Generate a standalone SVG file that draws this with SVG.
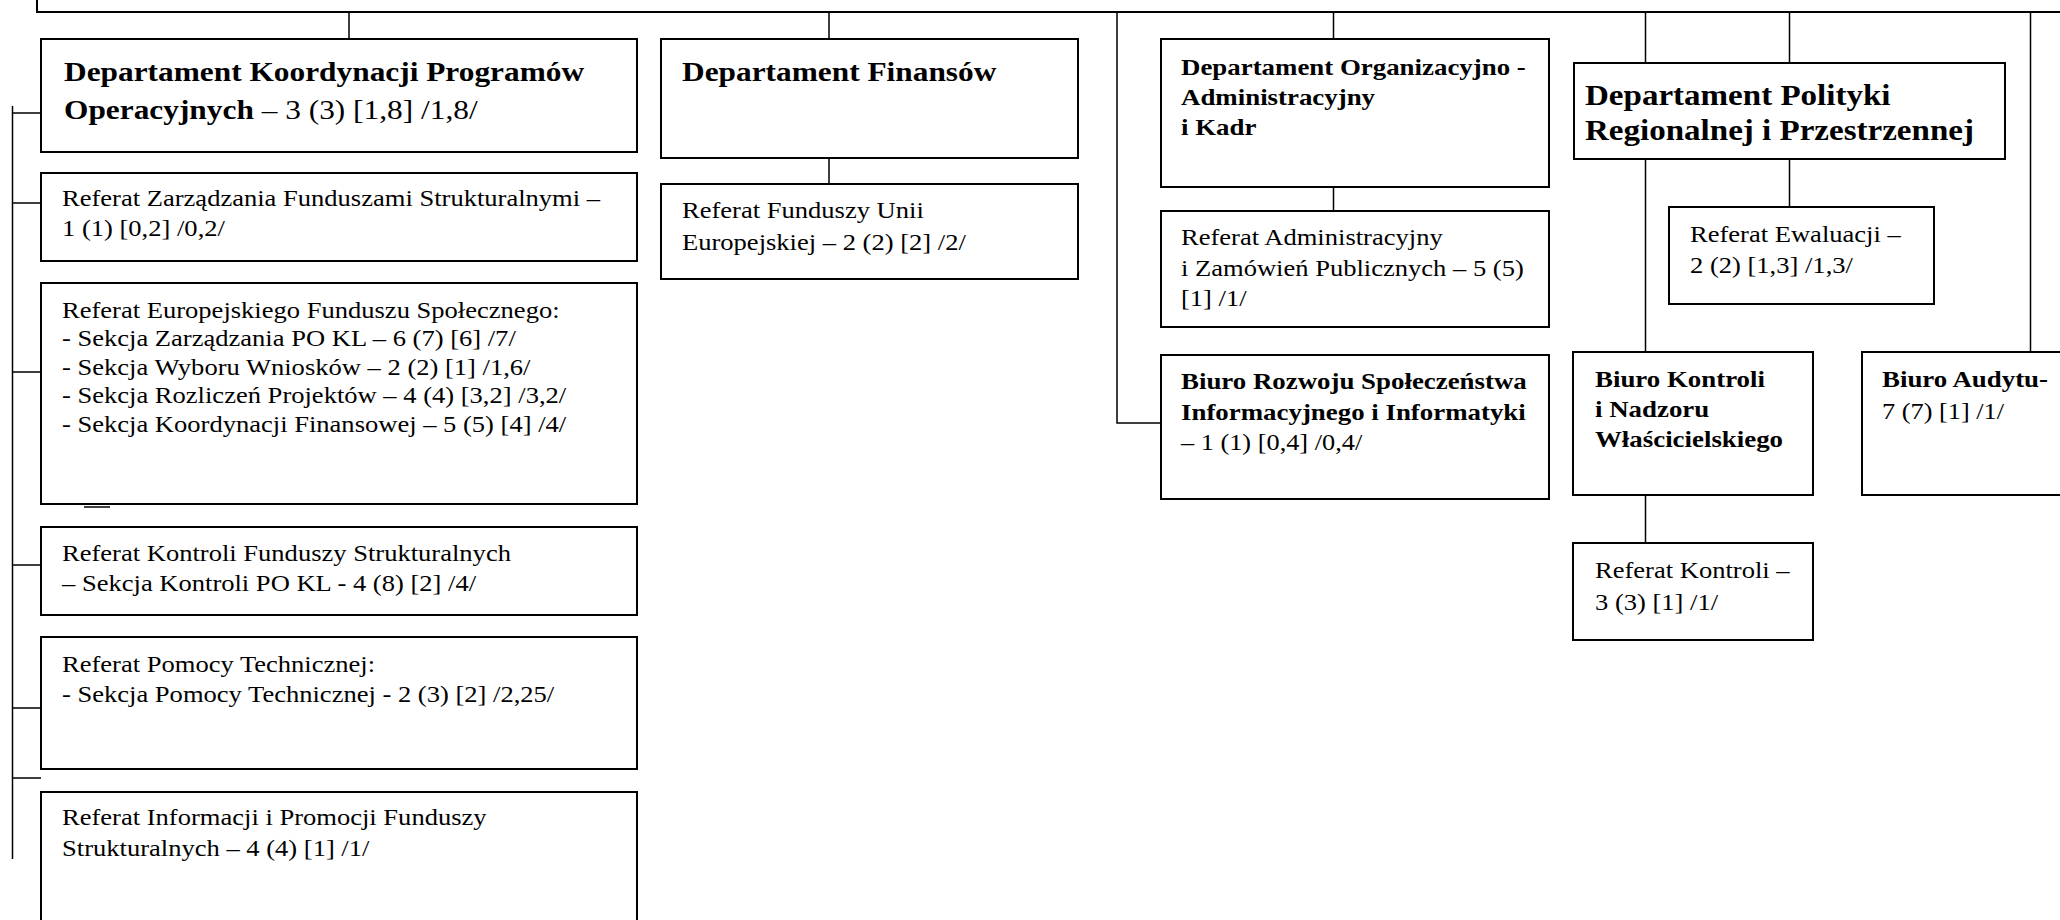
<svg xmlns="http://www.w3.org/2000/svg" width="2060" height="920" viewBox="0 0 2060 920">
<style>
.box{fill:#fff;stroke:#000;stroke-width:2}
.c{stroke:#000;stroke-width:1.5;fill:none}
.t{font-family:"Liberation Serif","Times New Roman",serif;font-size:23.5px;fill:#000}
.b{font-weight:bold;font-size:24px}
.h{font-weight:bold;font-size:28px}
.hp{font-weight:bold;font-size:29.5px}
.n{font-weight:normal}
</style>
<rect x="0" y="0" width="2060" height="920" fill="#fff"/>
<g id="top"><rect class="box" x="37" y="-30" width="2100" height="42" stroke-width="2.4"/></g>
<g id="connectors">
<path class="c" d="M349 12V39M829 12V39M1117 12V423H1161M1333.5 12V39M1645.5 12V63M1645.5 159V352M1789.5 12V63M1789.5 159V207M2030.5 12V352M829 158V184M861 195V223M1333.5 187V211M1645.5 495V543"/>
<path class="c" d="M12.5 106V859M12 113H41M12 203H41M12 372H41M12 565H41M12 708H41M12 778H41"/>
<path class="c" d="M84 507H110" stroke-width="2.6"/>
</g>
<g id="dkpo"><rect class="box" x="41" y="39" width="596" height="113"/>
<text class="t h" transform="translate(64,81) scale(1.12 1)"><tspan x="0" y="0">Departament Koordynacji Programów</tspan><tspan x="0" y="38">Operacyjnych</tspan><tspan class="n"> – 3 (3) [1,8] /1,8/</tspan></text></g>
<g id="df"><rect class="box" x="661" y="39" width="417" height="119"/>
<text class="t h" transform="translate(682,81) scale(1.12 1)">Departament Finansów</text></g>
<g id="doak"><rect class="box" x="1161" y="39" width="388" height="148"/>
<text class="t b" transform="translate(1181,75) scale(1.12 1)"><tspan x="0" y="0">Departament Organizacyjno -</tspan><tspan x="0" y="30">Administracyjny</tspan><tspan x="0" y="60">i Kadr</tspan></text></g>
<g id="dprip"><rect class="box" x="1574" y="63" width="431" height="96"/>
<text class="t hp" transform="translate(1585,105) scale(1.12 1)"><tspan x="0" y="0">Departament Polityki</tspan><tspan x="0" y="35">Regionalnej i Przestrzennej</tspan></text></g>
<g id="rzfs"><rect class="box" x="41" y="173" width="596" height="88"/>
<text class="t" transform="translate(62,206) scale(1.13 1)"><tspan x="0" y="0">Referat Zarządzania Funduszami Strukturalnymi –</tspan><tspan x="0" y="30">1 (1) [0,2] /0,2/</tspan></text></g>
<g id="refs"><rect class="box" x="41" y="283" width="596" height="221"/>
<text class="t" transform="translate(62,318) scale(1.13 1)"><tspan x="0" y="0">Referat Europejskiego Funduszu Społecznego:</tspan><tspan x="0" y="28.5">- Sekcja Zarządzania PO KL – 6 (7) [6] /7/</tspan><tspan x="0" y="57">- Sekcja Wyboru Wniosków – 2 (2) [1] /1,6/</tspan><tspan x="0" y="85.5">- Sekcja Rozliczeń Projektów – 4 (4) [3,2] /3,2/</tspan><tspan x="0" y="114">- Sekcja Koordynacji Finansowej – 5 (5) [4] /4/</tspan></text></g>
<g id="rkfs"><rect class="box" x="41" y="527" width="596" height="88"/>
<text class="t" transform="translate(62,561) scale(1.13 1)"><tspan x="0" y="0">Referat Kontroli Funduszy Strukturalnych</tspan><tspan x="0" y="30">– Sekcja Kontroli PO KL - 4 (8) [2] /4/</tspan></text></g>
<g id="rpt"><rect class="box" x="41" y="637" width="596" height="132"/>
<text class="t" transform="translate(62,672) scale(1.13 1)"><tspan x="0" y="0">Referat Pomocy Technicznej:</tspan><tspan x="0" y="30">- Sekcja Pomocy Technicznej - 2 (3) [2] /2,25/</tspan></text></g>
<g id="ripfs"><rect class="box" x="41" y="792" width="596" height="160"/>
<text class="t" transform="translate(62,825) scale(1.13 1)"><tspan x="0" y="0">Referat Informacji i Promocji Funduszy</tspan><tspan x="0" y="31">Strukturalnych – 4 (4) [1] /1/</tspan></text></g>
<g id="rfue"><rect class="box" x="661" y="184" width="417" height="95"/>
<text class="t" transform="translate(682,218) scale(1.13 1)"><tspan x="0" y="0">Referat Funduszy Unii</tspan><tspan x="0" y="32">Europejskiej – 2 (2) [2] /2/</tspan></text></g>
<g id="razp"><rect class="box" x="1161" y="211" width="388" height="116"/>
<text class="t" transform="translate(1181,245) scale(1.13 1)"><tspan x="0" y="0">Referat Administracyjny</tspan><tspan x="0" y="31">i Zamówień Publicznych – 5 (5)</tspan><tspan x="0" y="61.5">[1] /1/</tspan></text></g>
<g id="brsi"><rect class="box" x="1161" y="355" width="388" height="144"/>
<text class="t b" transform="translate(1181,389) scale(1.12 1)"><tspan x="0" y="0">Biuro Rozwoju Społeczeństwa</tspan><tspan x="0" y="31">Informacyjnego i Informatyki</tspan><tspan x="0" y="61" class="n" style="font-size:23.5px">– 1 (1)  [0,4] /0,4/</tspan></text></g>
<g id="rew"><rect class="box" x="1669" y="207" width="265" height="97"/>
<text class="t" transform="translate(1690,242) scale(1.13 1)"><tspan x="0" y="0">Referat Ewaluacji –</tspan><tspan x="0" y="31">2 (2) [1,3] /1,3/</tspan></text></g>
<g id="bknw"><rect class="box" x="1573" y="352" width="240" height="143"/>
<text class="t b" transform="translate(1595,387) scale(1.12 1)"><tspan x="0" y="0">Biuro Kontroli</tspan><tspan x="0" y="30">i Nadzoru</tspan><tspan x="0" y="60">Właścicielskiego</tspan></text></g>
<g id="ba"><rect class="box" x="1862" y="352" width="220" height="143"/>
<text class="t" transform="translate(1882,387) scale(1.12 1)"><tspan x="0" y="0" style="font-weight:bold;font-size:24px">Biuro Audytu-</tspan><tspan x="0" y="32">7 (7) [1] /1/</tspan></text></g>
<g id="rk"><rect class="box" x="1573" y="543" width="240" height="97"/>
<text class="t" transform="translate(1595,578) scale(1.13 1)"><tspan x="0" y="0">Referat Kontroli –</tspan><tspan x="0" y="32">3 (3) [1] /1/</tspan></text></g>
</svg>
